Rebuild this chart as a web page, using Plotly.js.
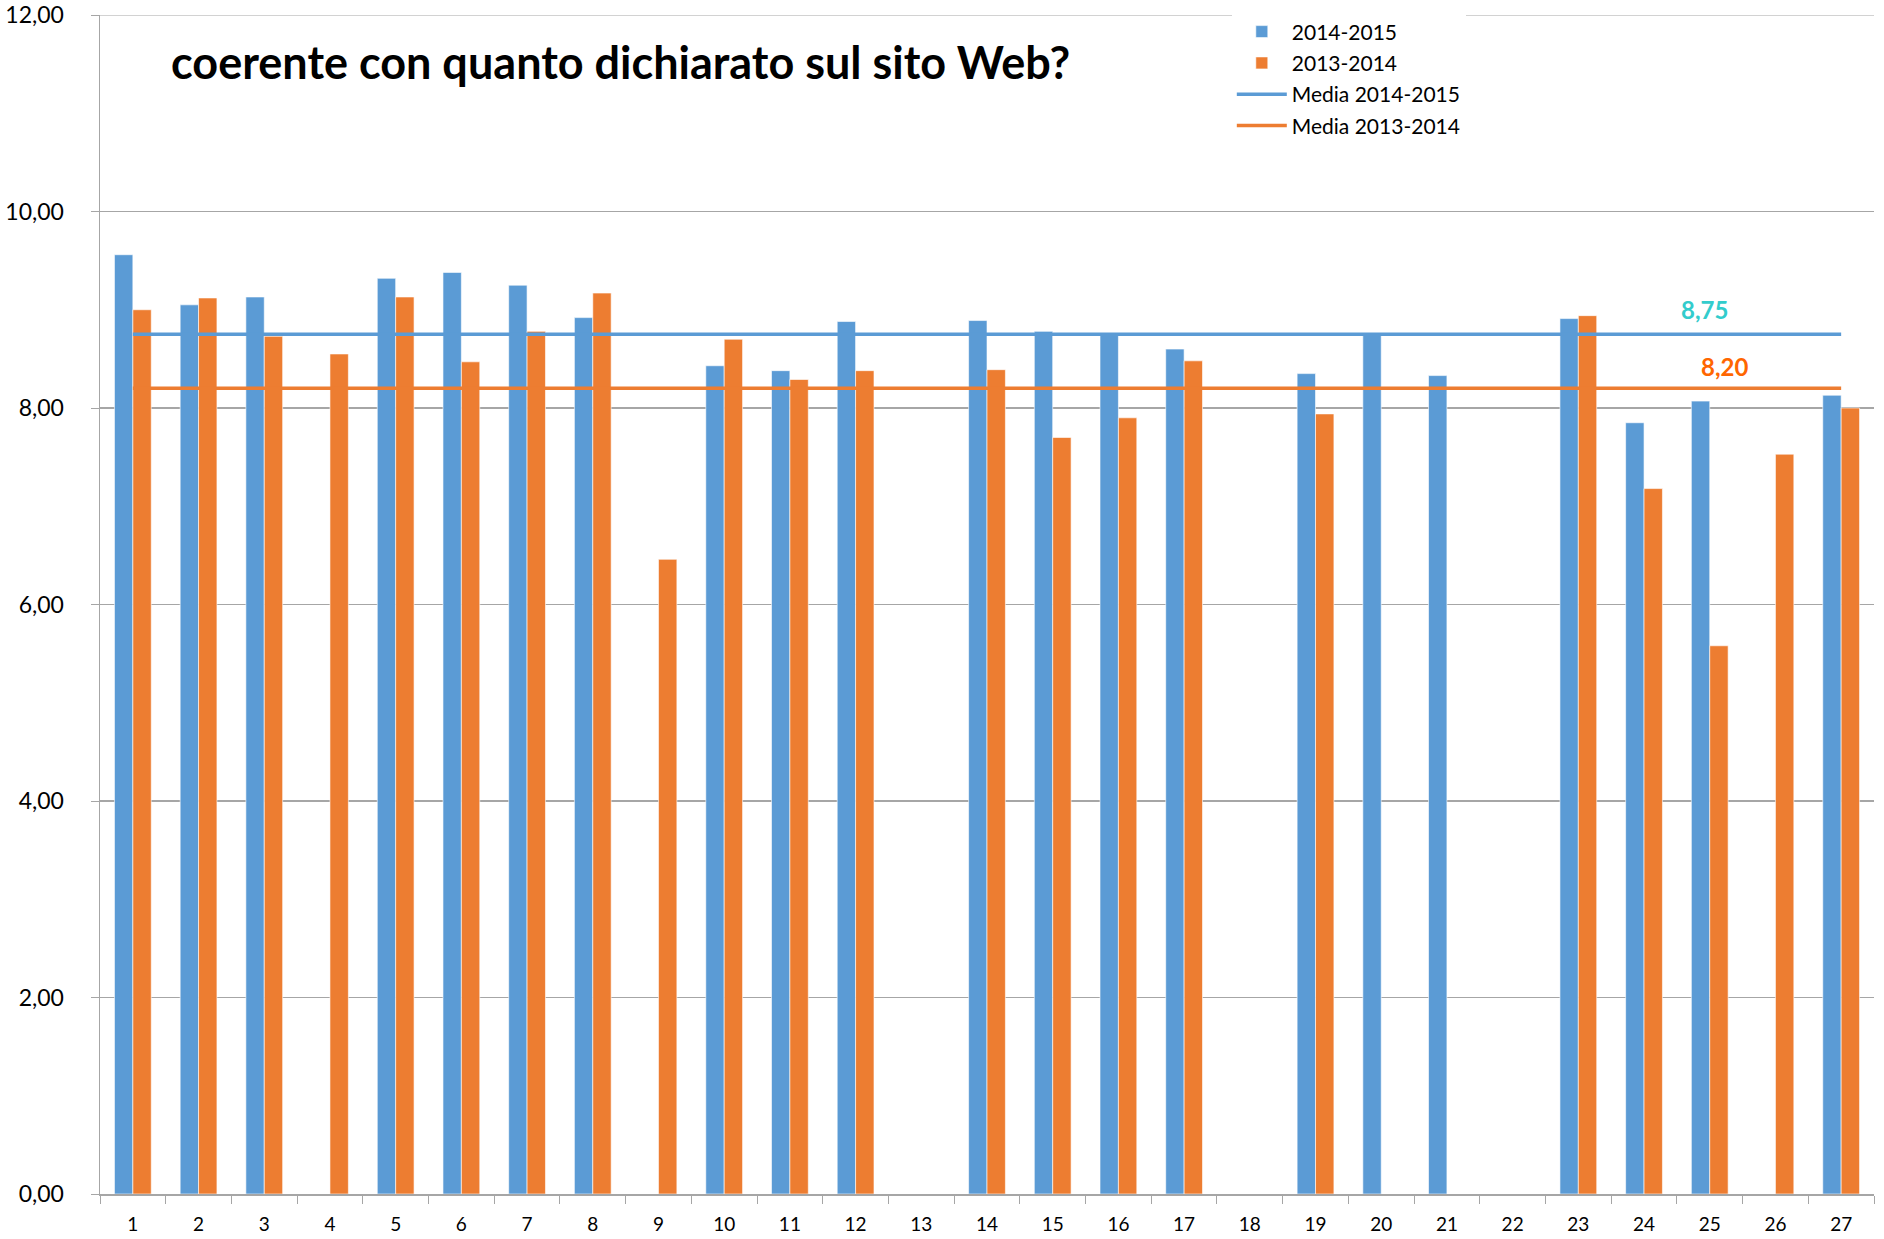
<!DOCTYPE html>
<html>
<head>
<meta charset="utf-8">
<script src="https://cdn.plot.ly/plotly-3.0.1.min.js"></script>
<style>html,body{margin:0;padding:0;background:#fff;}#chart{width:1884px;height:1239px;}</style>
</head>
<body>
<div id="chart"></div>
<script>
const categories = ['1','2','3','4','5','6','7','8','9','10','11','12','13','14','15','16','17','18','19','20','21','22','23','24','25','26','27'];
const values2014_2015 = [9.56, 9.05, 9.13, null, 9.32, 9.38, 9.25, 8.92, null, 8.43, 8.38, 8.88, null, 8.89, 8.78, 8.76, 8.60, null, 8.35, 8.76, 8.33, null, 8.91, 7.85, 8.07, null, 8.13];
const values2013_2014 = [9.00, 9.12, 8.73, 8.55, 9.13, 8.47, 8.78, 9.17, 6.46, 8.70, 8.29, 8.38, null, 8.39, 7.70, 7.90, 8.48, null, 7.94, null, null, null, 8.94, 7.18, 5.58, 7.53, 8.00];
const mean2014_2015 = 8.75;
const mean2013_2014 = 8.20;
const seriesNames = ['2014-2015', '2013-2014', 'Media 2014-2015', 'Media 2013-2014'];
const yTicks = [0, 2, 4, 6, 8, 10, 12];
const titleText = 'coerente con quanto dichiarato sul sito Web?';

const BLUE = '#5B9BD5', ORANGE = '#ED7D31';
const fmt = v => v.toFixed(2).replace('.', ',');
const lineX = [categories[0], categories[categories.length - 1]];
const yMax = yTicks[yTicks.length - 1];

const traces = [
  {type:'bar', name:seriesNames[0], x:categories, y:values2014_2015, marker:{color:BLUE, line:{color:'rgba(255,255,255,0.6)', width:1}}, legendgroup:'a'},
  {type:'bar', name:seriesNames[1], x:categories, y:values2013_2014, marker:{color:ORANGE, line:{color:'rgba(255,255,255,0.6)', width:1}}, legendgroup:'b'},
  {type:'scatter', mode:'lines', name:seriesNames[2], x:lineX, y:[mean2014_2015, mean2014_2015], line:{color:BLUE, width:3.5}, legendgroup:'c'},
  {type:'scatter', mode:'lines', name:seriesNames[3], x:lineX, y:[mean2013_2014, mean2013_2014], line:{color:ORANGE, width:3.5}, legendgroup:'d'}
];

const layout = {
  width:1884, height:1239,
  margin:{l:100, r:10, t:15, b:45},
  paper_bgcolor:'#fff', plot_bgcolor:'#fff',
  separators:',.',
  font:{family:'Lato, "Liberation Sans", sans-serif', color:'#000'},
  barmode:'group', bargap:0.44, bargroupgap:0,
  title:{text:'<b>' + titleText + '</b>', font:{family:'Lato, "Liberation Sans", sans-serif', size:45, color:'#000'}, xref:'container', yref:'container', x:171/1884, xanchor:'left', y:1-63/1239, yanchor:'middle'},
  xaxis:{type:'category', tickson:'boundaries', ticks:'outside', ticklen:8, tickcolor:'#A6A6A6', showline:true, linecolor:'#A6A6A6', linewidth:1.5, showgrid:false, tickfont:{size:19, color:'#000'}, ticklabelstandoff:13, fixedrange:true},
  yaxis:{range:[0,yMax], tickmode:'array', tickvals:yTicks, ticktext:yTicks.map(fmt), ticks:'outside', ticklen:8, tickcolor:'#A6A6A6', showline:true, linecolor:'#A6A6A6', linewidth:1.5, showgrid:true, gridcolor:'#A6A6A6', gridwidth:1.2, zeroline:false, tickfont:{size:23, color:'#000'}, ticklabelstandoff:22, ticklabeloverflow:'allow'},
  legend:{x:0.638, xanchor:'left', y:1.003, yanchor:'top', bgcolor:'#fff', borderwidth:0, font:{size:21, color:'#000'}, traceorder:'grouped', tracegroupgap:1, itemwidth:50},
  shapes:[
    {type:'line', layer:'below', xref:'paper', yref:'y', x0:0, x1:1, y0:yMax, y1:yMax, line:{color:'#A6A6A6', width:1.2}}
  ],
  annotations:[
    {xref:'paper', yref:'y', x:0.919, y:9.0, text:'<b>' + fmt(mean2014_2015) + '</b>', showarrow:false, font:{size:24, color:'#33CCCC'}},
    {xref:'paper', yref:'y', x:0.930, y:8.42, text:'<b>' + fmt(mean2013_2014) + '</b>', showarrow:false, font:{size:24, color:'#FF6600'}}
  ],
  showlegend:true
};

Plotly.newPlot('chart', traces, layout, {displayModeBar:false, staticPlot:true});
</script>
</body>
</html>
